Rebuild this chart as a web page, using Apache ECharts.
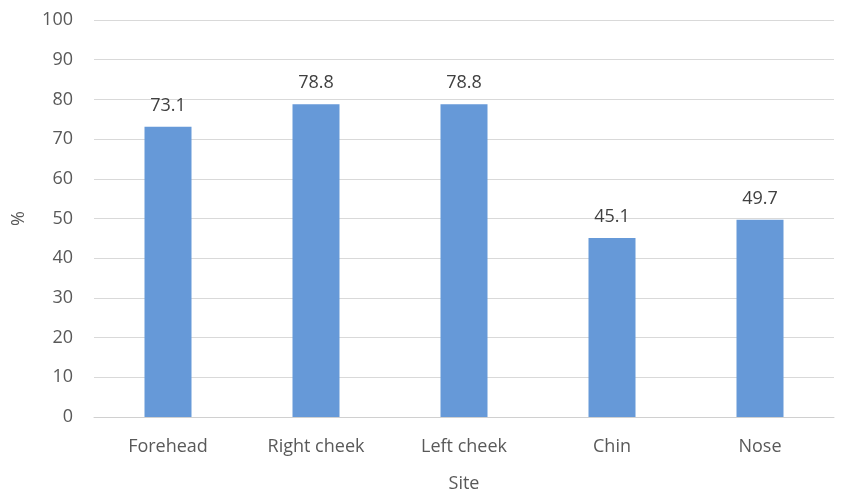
<!DOCTYPE html>
<html><head><meta charset="utf-8">
<script src="https://cdn.jsdelivr.net/npm/echarts@6/dist/echarts.min.js"></script>
<style>html,body{margin:0;padding:0;background:#fff}#c{width:850px;height:503px}</style>
</head><body><div id="c"></div>
<script>
const categories = ["Forehead", "Right cheek", "Left cheek", "Chin", "Nose"];
const values = [73.1, 78.8, 78.8, 45.1, 49.7];
const yTicks = [0, 10, 20, 30, 40, 50, 60, 70, 80, 90, 100];
const FONT = "Open Sans";
const chart = echarts.init(document.getElementById('c'), null, {renderer: 'canvas'});
chart.setOption({
  animation: false,
  grid: {left: 94, right: 16, top: 20, bottom: 86, containLabel: false, outerBoundsMode: 'none'},
  xAxis: {
    type: 'category', data: categories,
    name: 'Site', nameLocation: 'middle', nameGap: 58,
    nameTextStyle: {fontFamily: FONT, fontSize: 18, color: '#595959'},
    axisLine: {lineStyle: {color: '#d0d0d0', width: 1}},
    axisTick: {show: false},
    axisLabel: {fontFamily: FONT, fontSize: 18, color: '#595959', margin: 21}
  },
  yAxis: {
    type: 'value', min: yTicks[0], max: yTicks[yTicks.length - 1], interval: 10,
    name: '%', nameLocation: 'middle', nameGap: 66,
    nameTextStyle: {fontFamily: FONT, fontSize: 18, color: '#595959'},
    axisLine: {show: false}, axisTick: {show: false},
    axisLabel: {fontFamily: FONT, fontSize: 18, color: '#595959', margin: 21},
    splitLine: {lineStyle: {color: '#d9d9d9', width: 1}}
  },
  series: [{
    type: 'bar', data: values, barWidth: 47,
    itemStyle: {color: '#6699d8'},
    label: {show: true, position: 'top', distance: 12, fontFamily: FONT, fontSize: 18, color: '#404040',
      formatter: p => p.value.toFixed(1)}
  }]
});
</script></body></html>
